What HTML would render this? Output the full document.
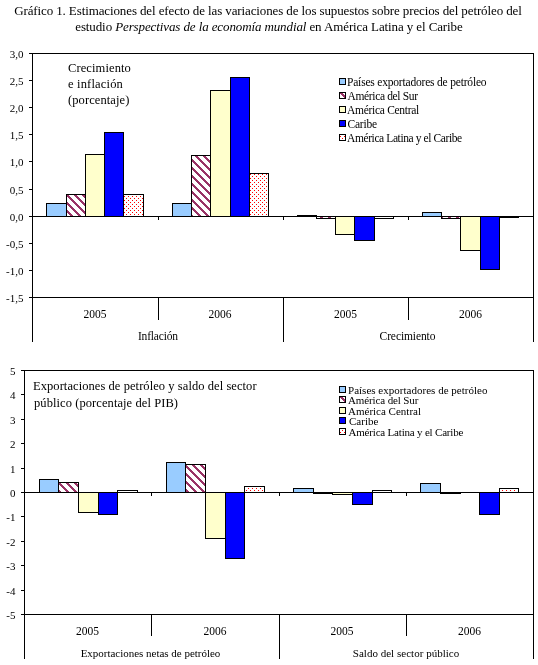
<!DOCTYPE html>
<html><head><meta charset="utf-8"><style>
html,body{margin:0;padding:0;background:#fff;}
body{width:538px;height:665px;overflow:hidden;position:relative;}
svg{position:absolute;left:0;top:0;will-change:transform;}
text{font-family:"Liberation Serif",serif;fill:#000;}
</style></head><body>
<svg width="538" height="665" viewBox="0 0 538 665" shape-rendering="crispEdges">
<defs>
<pattern id="hatch" patternUnits="userSpaceOnUse" x="0" y="0" width="8" height="8">
<rect width="8" height="8" fill="#fff"/>
<rect x="7" y="0" width="1" height="1" fill="#993366"/><rect x="0" y="0" width="1" height="1" fill="#993366"/><rect x="1" y="0" width="1" height="1" fill="#993366"/><rect x="0" y="1" width="1" height="1" fill="#993366"/><rect x="1" y="1" width="1" height="1" fill="#993366"/><rect x="2" y="1" width="1" height="1" fill="#993366"/><rect x="1" y="2" width="1" height="1" fill="#993366"/><rect x="2" y="2" width="1" height="1" fill="#993366"/><rect x="3" y="2" width="1" height="1" fill="#993366"/><rect x="2" y="3" width="1" height="1" fill="#993366"/><rect x="3" y="3" width="1" height="1" fill="#993366"/><rect x="4" y="3" width="1" height="1" fill="#993366"/><rect x="3" y="4" width="1" height="1" fill="#993366"/><rect x="4" y="4" width="1" height="1" fill="#993366"/><rect x="5" y="4" width="1" height="1" fill="#993366"/><rect x="4" y="5" width="1" height="1" fill="#993366"/><rect x="5" y="5" width="1" height="1" fill="#993366"/><rect x="6" y="5" width="1" height="1" fill="#993366"/><rect x="5" y="6" width="1" height="1" fill="#993366"/><rect x="6" y="6" width="1" height="1" fill="#993366"/><rect x="7" y="6" width="1" height="1" fill="#993366"/><rect x="6" y="7" width="1" height="1" fill="#993366"/><rect x="7" y="7" width="1" height="1" fill="#993366"/><rect x="0" y="7" width="1" height="1" fill="#993366"/>
</pattern>
<pattern id="dots" patternUnits="userSpaceOnUse" x="0" y="0" width="4" height="4">
<rect width="4" height="4" fill="#fff"/>
<rect x="0" y="0" width="1" height="1" fill="#FF0000"/>
<rect x="2" y="2" width="1" height="1" fill="#FF0000"/>
</pattern>
</defs>
<rect x="46.5" y="203.5" width="20" height="13" fill="#99CCFF" stroke="#000" stroke-width="1"/>
<rect x="66.5" y="194.5" width="19" height="22" fill="url(#hatch)" stroke="#000" stroke-width="1"/>
<rect x="85.5" y="154.5" width="19" height="62" fill="#FFFFCC" stroke="#000" stroke-width="1"/>
<rect x="104.5" y="132.5" width="19" height="84" fill="#0000FF" stroke="#000" stroke-width="1"/>
<rect x="123.5" y="194.5" width="20" height="22" fill="url(#dots)" stroke="#000" stroke-width="1"/>
<rect x="172.5" y="203.5" width="19" height="13" fill="#99CCFF" stroke="#000" stroke-width="1"/>
<rect x="191.5" y="155.5" width="19" height="61" fill="url(#hatch)" stroke="#000" stroke-width="1"/>
<rect x="210.5" y="90.5" width="20" height="126" fill="#FFFFCC" stroke="#000" stroke-width="1"/>
<rect x="230.5" y="77.5" width="19" height="139" fill="#0000FF" stroke="#000" stroke-width="1"/>
<rect x="249.5" y="173.5" width="19" height="43" fill="url(#dots)" stroke="#000" stroke-width="1"/>
<rect x="297.5" y="215.5" width="19" height="1" fill="#99CCFF" stroke="#000" stroke-width="1"/>
<rect x="316.5" y="216.5" width="19" height="2" fill="url(#hatch)" stroke="#000" stroke-width="1"/>
<rect x="335.5" y="216.5" width="19" height="18" fill="#FFFFCC" stroke="#000" stroke-width="1"/>
<rect x="354.5" y="216.5" width="20" height="24" fill="#0000FF" stroke="#000" stroke-width="1"/>
<rect x="374.5" y="216.5" width="19" height="2" fill="url(#dots)" stroke="#000" stroke-width="1"/>
<rect x="422.5" y="212.5" width="19" height="4" fill="#99CCFF" stroke="#000" stroke-width="1"/>
<rect x="441.5" y="216.5" width="19" height="2" fill="url(#hatch)" stroke="#000" stroke-width="1"/>
<rect x="460.5" y="216.5" width="20" height="34" fill="#FFFFCC" stroke="#000" stroke-width="1"/>
<rect x="480.5" y="216.5" width="19" height="53" fill="#0000FF" stroke="#000" stroke-width="1"/>
<rect x="499.5" y="216.5" width="19" height="1" fill="url(#dots)" stroke="#000" stroke-width="1"/>
<line x1="32" y1="216.5" x2="534" y2="216.5" stroke="#000" stroke-width="1"/>
<line x1="158.5" y1="217" x2="158.5" y2="220" stroke="#000" stroke-width="1"/>
<line x1="283.5" y1="217" x2="283.5" y2="220" stroke="#000" stroke-width="1"/>
<line x1="408.5" y1="217" x2="408.5" y2="220" stroke="#000" stroke-width="1"/>
<line x1="29" y1="53.5" x2="534" y2="53.5" stroke="#000" stroke-width="1"/>
<line x1="533.5" y1="53" x2="533.5" y2="342" stroke="#000" stroke-width="1"/>
<line x1="32.5" y1="53" x2="32.5" y2="342" stroke="#000" stroke-width="1"/>
<line x1="29" y1="297.5" x2="534" y2="297.5" stroke="#000" stroke-width="1"/>
<line x1="158.5" y1="297" x2="158.5" y2="320" stroke="#000" stroke-width="1"/>
<line x1="408.5" y1="297" x2="408.5" y2="320" stroke="#000" stroke-width="1"/>
<line x1="283.5" y1="297" x2="283.5" y2="342" stroke="#000" stroke-width="1"/>
<line x1="29" y1="53.5" x2="32" y2="53.5" stroke="#000" stroke-width="1"/>
<line x1="29" y1="80.5" x2="32" y2="80.5" stroke="#000" stroke-width="1"/>
<line x1="29" y1="107.5" x2="32" y2="107.5" stroke="#000" stroke-width="1"/>
<line x1="29" y1="134.5" x2="32" y2="134.5" stroke="#000" stroke-width="1"/>
<line x1="29" y1="161.5" x2="32" y2="161.5" stroke="#000" stroke-width="1"/>
<line x1="29" y1="189.5" x2="32" y2="189.5" stroke="#000" stroke-width="1"/>
<line x1="29" y1="216.5" x2="32" y2="216.5" stroke="#000" stroke-width="1"/>
<line x1="29" y1="243.5" x2="32" y2="243.5" stroke="#000" stroke-width="1"/>
<line x1="29" y1="270.5" x2="32" y2="270.5" stroke="#000" stroke-width="1"/>
<line x1="29" y1="297.5" x2="32" y2="297.5" stroke="#000" stroke-width="1"/>
<rect x="339.5" y="78.5" width="6" height="6" fill="#99CCFF" stroke="#000"/>
<rect x="339.5" y="92.5" width="6" height="6" fill="url(#hatch)" stroke="#000"/>
<rect x="339.5" y="106.5" width="6" height="6" fill="#FFFFCC" stroke="#000"/>
<rect x="339.5" y="120.5" width="6" height="6" fill="#0000FF" stroke="#000"/>
<rect x="339.5" y="134.5" width="6" height="6" fill="url(#dots)" stroke="#000"/>
<rect x="39.5" y="479.5" width="19" height="13" fill="#99CCFF" stroke="#000" stroke-width="1"/>
<rect x="58.5" y="482.5" width="20" height="10" fill="url(#hatch)" stroke="#000" stroke-width="1"/>
<rect x="78.5" y="492.5" width="20" height="20" fill="#FFFFCC" stroke="#000" stroke-width="1"/>
<rect x="98.5" y="492.5" width="19" height="22" fill="#0000FF" stroke="#000" stroke-width="1"/>
<rect x="117.5" y="490.5" width="20" height="2" fill="url(#dots)" stroke="#000" stroke-width="1"/>
<rect x="166.5" y="462.5" width="19" height="30" fill="#99CCFF" stroke="#000" stroke-width="1"/>
<rect x="185.5" y="464.5" width="20" height="28" fill="url(#hatch)" stroke="#000" stroke-width="1"/>
<rect x="205.5" y="492.5" width="20" height="46" fill="#FFFFCC" stroke="#000" stroke-width="1"/>
<rect x="225.5" y="492.5" width="19" height="66" fill="#0000FF" stroke="#000" stroke-width="1"/>
<rect x="244.5" y="486.5" width="20" height="6" fill="url(#dots)" stroke="#000" stroke-width="1"/>
<rect x="293.5" y="488.5" width="20" height="4" fill="#99CCFF" stroke="#000" stroke-width="1"/>
<rect x="313.5" y="492.5" width="19" height="1" fill="url(#hatch)" stroke="#000" stroke-width="1"/>
<rect x="332.5" y="492.5" width="20" height="2" fill="#FFFFCC" stroke="#000" stroke-width="1"/>
<rect x="352.5" y="492.5" width="20" height="12" fill="#0000FF" stroke="#000" stroke-width="1"/>
<rect x="372.5" y="490.5" width="19" height="2" fill="url(#dots)" stroke="#000" stroke-width="1"/>
<rect x="420.5" y="483.5" width="20" height="9" fill="#99CCFF" stroke="#000" stroke-width="1"/>
<rect x="440.5" y="492.5" width="20" height="1" fill="url(#hatch)" stroke="#000" stroke-width="1"/>
<rect x="479.5" y="492.5" width="20" height="22" fill="#0000FF" stroke="#000" stroke-width="1"/>
<rect x="499.5" y="488.5" width="19" height="4" fill="url(#dots)" stroke="#000" stroke-width="1"/>
<line x1="24" y1="492.5" x2="534" y2="492.5" stroke="#000" stroke-width="1"/>
<line x1="151.5" y1="493" x2="151.5" y2="496" stroke="#000" stroke-width="1"/>
<line x1="279.5" y1="493" x2="279.5" y2="496" stroke="#000" stroke-width="1"/>
<line x1="406.5" y1="493" x2="406.5" y2="496" stroke="#000" stroke-width="1"/>
<line x1="21" y1="370.5" x2="534" y2="370.5" stroke="#000" stroke-width="1"/>
<line x1="533.5" y1="370" x2="533.5" y2="659" stroke="#000" stroke-width="1"/>
<line x1="24.5" y1="370" x2="24.5" y2="659" stroke="#000" stroke-width="1"/>
<line x1="21" y1="614.5" x2="534" y2="614.5" stroke="#000" stroke-width="1"/>
<line x1="151.5" y1="614" x2="151.5" y2="636" stroke="#000" stroke-width="1"/>
<line x1="406.5" y1="614" x2="406.5" y2="636" stroke="#000" stroke-width="1"/>
<line x1="279.5" y1="614" x2="279.5" y2="659" stroke="#000" stroke-width="1"/>
<line x1="21" y1="370.5" x2="24" y2="370.5" stroke="#000" stroke-width="1"/>
<line x1="21" y1="394.5" x2="24" y2="394.5" stroke="#000" stroke-width="1"/>
<line x1="21" y1="419.5" x2="24" y2="419.5" stroke="#000" stroke-width="1"/>
<line x1="21" y1="443.5" x2="24" y2="443.5" stroke="#000" stroke-width="1"/>
<line x1="21" y1="468.5" x2="24" y2="468.5" stroke="#000" stroke-width="1"/>
<line x1="21" y1="492.5" x2="24" y2="492.5" stroke="#000" stroke-width="1"/>
<line x1="21" y1="516.5" x2="24" y2="516.5" stroke="#000" stroke-width="1"/>
<line x1="21" y1="541.5" x2="24" y2="541.5" stroke="#000" stroke-width="1"/>
<line x1="21" y1="565.5" x2="24" y2="565.5" stroke="#000" stroke-width="1"/>
<line x1="21" y1="590.5" x2="24" y2="590.5" stroke="#000" stroke-width="1"/>
<line x1="21" y1="614.5" x2="24" y2="614.5" stroke="#000" stroke-width="1"/>
<rect x="339.5" y="386.5" width="6" height="6" fill="#99CCFF" stroke="#000"/>
<rect x="339.5" y="396.5" width="6" height="6" fill="url(#hatch)" stroke="#000"/>
<rect x="339.5" y="407.5" width="6" height="6" fill="#FFFFCC" stroke="#000"/>
<rect x="339.5" y="417.5" width="6" height="6" fill="#0000FF" stroke="#000"/>
<rect x="339.5" y="428.5" width="6" height="6" fill="url(#dots)" stroke="#000"/>
<text id="ty0" x="23.50" y="58.00" font-size="11" text-anchor="end">3,0</text>
<text id="ty1" x="23.50" y="85.00" font-size="11" text-anchor="end">2,5</text>
<text id="ty2" x="23.50" y="112.00" font-size="11" text-anchor="end">2,0</text>
<text id="ty3" x="23.50" y="139.00" font-size="11" text-anchor="end">1,5</text>
<text id="ty4" x="23.50" y="166.00" font-size="11" text-anchor="end">1,0</text>
<text id="ty5" x="23.50" y="194.00" font-size="11" text-anchor="end">0,5</text>
<text id="ty6" x="23.50" y="221.00" font-size="11" text-anchor="end">0,0</text>
<text id="ty7" x="23.50" y="248.00" font-size="11" text-anchor="end">-0,5</text>
<text id="ty8" x="23.50" y="275.00" font-size="11" text-anchor="end">-1,0</text>
<text id="ty9" x="23.50" y="302.00" font-size="11" text-anchor="end">-1,5</text>
<text id="tc0" x="95.00" y="318.00" font-size="11.5" text-anchor="middle">2005</text>
<text id="tc1" x="220.00" y="318.00" font-size="11.5" text-anchor="middle">2006</text>
<text id="tc2" x="345.50" y="318.00" font-size="11.5" text-anchor="middle">2005</text>
<text id="tc3" x="470.50" y="318.00" font-size="11.5" text-anchor="middle">2006</text>
<text id="tg0" x="158.00" y="340.00" font-size="11.5" text-anchor="middle" textLength="40.20" lengthAdjust="spacing">Inflación</text>
<text id="tg1" x="407.50" y="340.00" font-size="11.5" text-anchor="middle" textLength="55.87" lengthAdjust="spacing">Crecimiento</text>
<text id="ta0" x="68.00" y="72.00" font-size="12.5" textLength="62.80" lengthAdjust="spacing">Crecimiento</text>
<text id="ta1" x="68.00" y="88.00" font-size="12.5" textLength="54.85" lengthAdjust="spacing">e inflación</text>
<text id="ta2" x="68.00" y="104.00" font-size="12.5" textLength="61.39" lengthAdjust="spacing">(porcentaje)</text>
<text id="tl0" x="347.00" y="86.00" font-size="11.5" textLength="139.55" lengthAdjust="spacing">Países exportadores de petróleo</text>
<text id="tl1" x="347.50" y="100.00" font-size="11.5" textLength="70.53" lengthAdjust="spacing">América del Sur</text>
<text id="tl2" x="347.00" y="114.00" font-size="11.5" textLength="72.31" lengthAdjust="spacing">América Central</text>
<text id="tl3" x="347.50" y="128.00" font-size="11.5" textLength="29.66" lengthAdjust="spacing">Caribe</text>
<text id="tl4" x="347.00" y="142.00" font-size="11.5" textLength="115.17" lengthAdjust="spacing">América Latina y el Caribe</text>
<text id="by0" x="15.50" y="374.50" font-size="11" text-anchor="end">5</text>
<text id="by1" x="15.50" y="398.50" font-size="11" text-anchor="end">4</text>
<text id="by2" x="15.50" y="423.50" font-size="11" text-anchor="end">3</text>
<text id="by3" x="15.50" y="447.50" font-size="11" text-anchor="end">2</text>
<text id="by4" x="15.50" y="472.50" font-size="11" text-anchor="end">1</text>
<text id="by5" x="15.50" y="496.50" font-size="11" text-anchor="end">0</text>
<text id="by6" x="15.50" y="520.50" font-size="11" text-anchor="end">-1</text>
<text id="by7" x="15.50" y="545.50" font-size="11" text-anchor="end">-2</text>
<text id="by8" x="15.50" y="569.50" font-size="11" text-anchor="end">-3</text>
<text id="by9" x="15.50" y="594.50" font-size="11" text-anchor="end">-4</text>
<text id="by10" x="15.50" y="618.50" font-size="11" text-anchor="end">-5</text>
<text id="bc0" x="87.60" y="635.00" font-size="11.5" text-anchor="middle">2005</text>
<text id="bc1" x="215.00" y="635.00" font-size="11.5" text-anchor="middle">2006</text>
<text id="bc2" x="342.00" y="635.00" font-size="11.5" text-anchor="middle">2005</text>
<text id="bc3" x="469.40" y="635.00" font-size="11.5" text-anchor="middle">2006</text>
<text id="bg0" x="150.50" y="657.00" font-size="11" text-anchor="middle" textLength="139.70" lengthAdjust="spacing">Exportaciones netas de petróleo</text>
<text id="bg1" x="406.00" y="657.00" font-size="11" text-anchor="middle" textLength="106.50" lengthAdjust="spacing">Saldo del sector público</text>
<text id="ba0" x="33.00" y="390.00" font-size="12.5" textLength="223.60" lengthAdjust="spacing">Exportaciones de petróleo y saldo del sector</text>
<text id="ba1" x="34.00" y="407.00" font-size="12.5" textLength="143.97" lengthAdjust="spacing">público (porcentaje del PIB)</text>
<text id="bl0" x="348.00" y="393.50" font-size="11" textLength="139.48" lengthAdjust="spacing">Países exportadores de petróleo</text>
<text id="bl1" x="348.00" y="403.50" font-size="11" textLength="70.42" lengthAdjust="spacing">América del Sur</text>
<text id="bl2" x="348.00" y="414.50" font-size="11" textLength="73.00" lengthAdjust="spacing">América Central</text>
<text id="bl3" x="349.00" y="424.50" font-size="11" textLength="29.44" lengthAdjust="spacing">Caribe</text>
<text id="bl4" x="348.50" y="435.50" font-size="11" textLength="114.84" lengthAdjust="spacing">América Latina y el Caribe</text>
<text id="h1" x="268.00" y="15.00" font-size="13" text-anchor="middle" textLength="507.67" lengthAdjust="spacing">Gráfico 1. Estimaciones del efecto de las variaciones de los supuestos sobre precios del petróleo del</text>
<text id="h2" x="269.00" y="31.00" font-size="13" text-anchor="middle" textLength="387.56" lengthAdjust="spacing">estudio <tspan font-style="italic">Perspectivas de la economía mundial</tspan>  en América Latina y el Caribe</text>
</svg>
</body></html>
